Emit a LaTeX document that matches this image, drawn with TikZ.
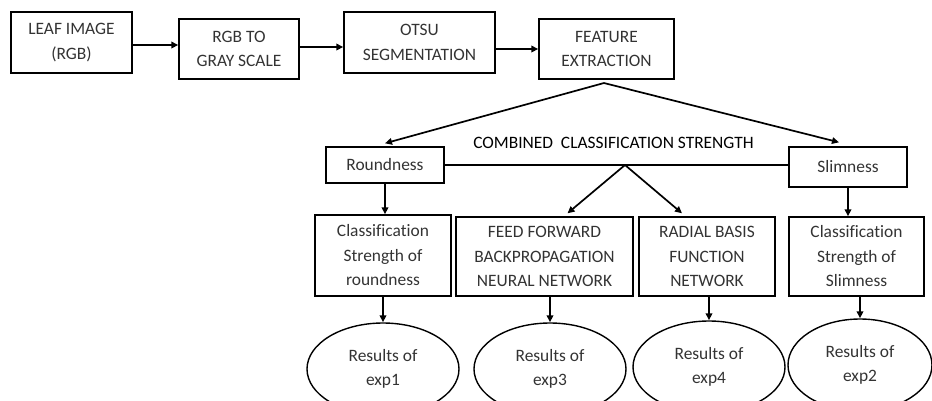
\documentclass[tikz,border=0pt]{standalone}
\usepackage{fontspec}
\setmainfont{Carlito}[Ligatures=NoCommon]
\usetikzlibrary{shapes.geometric,arrows.meta}
\begin{document}
\begin{tikzpicture}[x=1pt,y=-1pt,
  font=\fontsize{17.4}{24.5}\selectfont,
  box/.style={draw,line width=1.4pt,align=center,inner sep=2pt,text=black!80},
  res/.style={draw,ellipse,line width=1.4pt,align=center,minimum width=152pt,minimum height=92pt,text=black!80},
  arr/.style={-{Triangle[length=7pt,width=6.5pt]},line width=1.7pt}]
  \useasboundingbox (0,0) rectangle (932,400);
  % pipeline
  \node[box,minimum width=121pt,minimum height=61pt] (leaf) at (71.5,42.5) {LEAF IMAGE\\(RGB)};
  \node[box,minimum width=120pt,minimum height=60pt] (gray) at (239,49) {RGB TO\\GRAY SCALE};
  \node[box,minimum width=151pt,minimum height=61pt] (otsu) at (419.5,42.5) {OTSU\\SEGMENTATION};
  \node[box,minimum width=135pt,minimum height=60pt] (feat) at (606.5,49) {FEATURE\\EXTRACTION};
  \draw[arr] ([yshift=-2.5pt]leaf.east) -- ([yshift=-2.5pt]leaf.east -| gray.west);
  \draw[arr] ([yshift=2pt]gray.east) -- ([yshift=2pt]gray.east -| otsu.west);
  \draw[arr] (otsu.east |- feat.west) -- (feat.west);
  % features
  \node[box,minimum width=118pt,minimum height=36pt] (round) at (385,165) {Roundness};
  \node[box,minimum width=118pt,minimum height=40pt] (slim) at (848,167) {Slimness};
  \node (comb) at (613.5,143) {COMBINED\ \ CLASSIFICATION STRENGTH};
  \coordinate (split) at (604,83);
  \coordinate (apex) at (625,165);
  \draw[arr] (split) -- ([yshift=3pt]round.north);
  \draw[arr] (split) -- ([xshift=-9pt,yshift=4pt]slim.north);
  \draw[line width=1.4pt] (round.east) -- (round.east -| slim.west);
  % classifiers
  \node[box,minimum width=136pt,minimum height=81pt] (cr) at (383,255.5) {Classification\\Strength of\\roundness};
  \node[box,minimum width=177pt,minimum height=79pt] (ff) at (544.5,256.5) {FEED FORWARD\\BACKPROPAGATION\\NEURAL NETWORK};
  \node[box,minimum width=136pt,minimum height=79pt] (rb) at (707,256.5) {RADIAL BASIS\\FUNCTION\\NETWORK};
  \node[box,minimum width=135pt,minimum height=79pt] (cs) at (856.5,256.5) {Classification\\Strength of\\Slimness};
  \draw[arr] (round.south) -- (round.south |- cr.north);
  \draw[arr] (slim.south) -- (slim.south |- cs.north);
  \draw[arr] (apex) -- ([xshift=23pt,yshift=3pt]ff.north);
  \draw[arr] (apex) -- ([xshift=-25pt,yshift=3pt]rb.north);
  % results
  \node[res] (e1) at (383,369) {Results of\\exp1};
  \node[res] (e3) at (550,369) {Results of\\exp3};
  \node[res] (e4) at (709,367) {Results of\\exp4};
  \node[res,minimum width=144pt] (e2) at (860,365) {Results of\\exp2};
  \draw[arr] (cr.south) -- (e1.north);
  \draw[arr] (e3.north |- ff.south) -- (e3.north);
  \draw[arr] (e4.north |- rb.south) -- (e4.north);
  \draw[arr] (e2.north |- cs.south) -- (e2.north);
\end{tikzpicture}
\end{document}
